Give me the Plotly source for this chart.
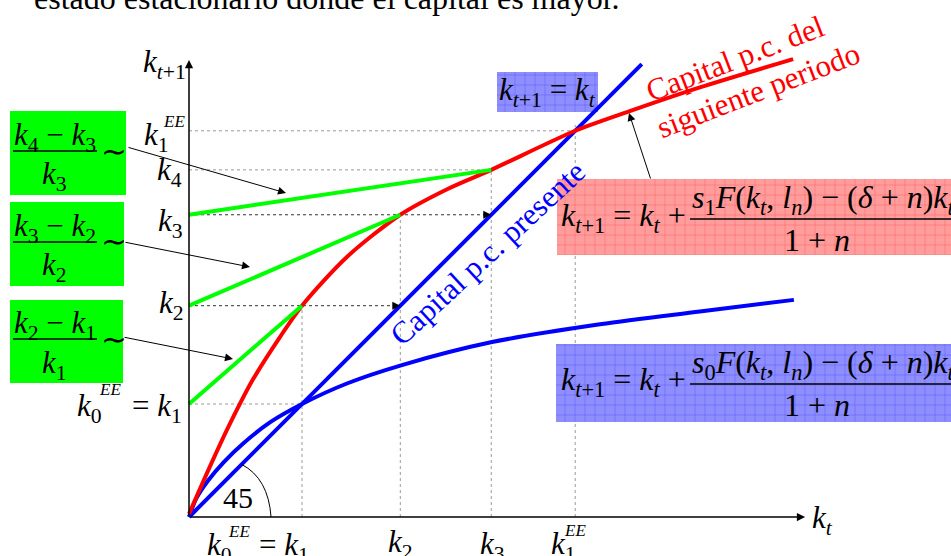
import plotly.graph_objects as go

W, H = 951, 556
# axis origin in pixels and pixels per unit of capital
OX, OY, S = 189, 517, 38.7
SERIF = "Liberation Serif"

# transition path of capital per capita: k1, k2, k3, k4
k_path = [2.92, 5.46, 7.81, 8.97]
# new steady state k1^EE
k_ee1 = 9.98

# k_{t+1} against k_t with the higher savings rate s1
red_x = [0.0, 0.54, 0.98, 1.65, 2.35, 2.92, 4.08, 5.46, 6.67, 7.81, 9.98, 11.37, 13.20, 15.61]
red_y = [0.08, 1.30, 2.25, 3.55, 4.65, 5.46, 6.72, 7.81, 8.47, 8.97, 9.98, 10.48, 11.10, 11.83]

# k_{t+1} against k_t with the original savings rate s0
blue_x = [0.0, 0.20, 0.50, 0.90, 1.40, 2.10, 2.92, 4.08, 5.48, 7.83, 10.62, 13.20, 15.63]
blue_y = [0.0, 0.50, 0.95, 1.42, 1.90, 2.45, 2.92, 3.45, 3.92, 4.52, 4.98, 5.31, 5.61]

# 45 degree line k_{t+1} = k_t
diag_end = 11.7
# axis extents
x_axis_end, y_axis_end = 15.92, 11.81

x_range = [-OX / S, (W - OX) / S]
y_range = [-(H - OY) / S, OY / S]


def pp(px, py):
    """pixel position on the page -> paper coordinates"""
    return px / W, 1 - py / H


def to_data(px, py):
    return (px - OX) / S, (OY - py) / S


def k(sub):
    return f"<i>k</i><sub>{sub}</sub>"


fig = go.Figure()
shapes, annotations = [], []


def text(txt, px, py, size=30, color="black", xanchor="center", yanchor="middle", angle=0):
    x, y = pp(px, py)
    annotations.append(dict(text=txt, x=x, y=y, xref="paper", yref="paper", showarrow=False,
                            font=dict(family=SERIF, size=size, color=color),
                            xanchor=xanchor, yanchor=yanchor, textangle=angle))


def arrow(head, tail, width=1.0, size=1.6):
    x, y = pp(*head)
    annotations.append(dict(text="", x=x, y=y, xref="paper", yref="paper", showarrow=True,
                            ax=tail[0] - head[0], ay=tail[1] - head[1],
                            arrowhead=2, arrowsize=size, arrowwidth=width, arrowcolor="black",
                            standoff=0))


def hbar(x0, x1, py, width=1.5):
    a, y = pp(x0, py)
    b, _ = pp(x1, py)
    shapes.append(dict(type="line", xref="paper", yref="paper", x0=a, x1=b, y0=y, y1=y,
                       line=dict(color="black", width=width)))


def pattern_box(x0, y0, x1, y1, bg, fg):
    ax0, ay0 = to_data(x0, y0)
    ax1, ay1 = to_data(x1, y1)
    fig.add_trace(go.Scatter(x=[ax0, ax1, ax1, ax0, ax0], y=[ay0, ay0, ay1, ay1, ay0],
                             mode="none", fill="toself", hoverinfo="skip",
                             fillpattern=dict(shape="+", size=10, solidity=0.1,
                                              bgcolor=bg, fgcolor=fg)))


# ---- guide lines (dotted) ----
k1, k2, k3, k4 = k_path
gray = dict(color="#9a9a9a", width=1, dash="dot")
dark = dict(color="#333333", width=1, dash="dot")
for xv, top in [(k1, k2), (k2, k3), (k3, k4), (k_ee1, k_ee1 + 0.15)]:
    shapes.append(dict(type="line", xref="x", yref="y", x0=xv, x1=xv, y0=0, y1=top,
                       line=gray, layer="below"))
shapes.append(dict(type="line", xref="x", yref="y", x0=0, x1=k1, y0=k1, y1=k1, line=gray, layer="below"))
shapes.append(dict(type="line", xref="x", yref="y", x0=0, x1=k2, y0=k2, y1=k2, line=dark, layer="below"))
shapes.append(dict(type="line", xref="x", yref="y", x0=0, x1=k3, y0=k3, y1=k3, line=dark, layer="below"))
shapes.append(dict(type="line", xref="x", yref="y", x0=0, x1=k3, y0=k4, y1=k4, line=gray, layer="below"))
shapes.append(dict(type="line", xref="x", yref="y", x0=0, x1=k_ee1, y0=k_ee1, y1=k_ee1, line=gray, layer="below"))

# arrowheads where the next capital level meets the 45 degree line
for kv in (k2, k3):
    annotations.append(dict(text="", x=kv, y=kv, xref="x", yref="y", showarrow=True,
                            ax=-9, ay=0, arrowhead=2, arrowsize=1.6, arrowwidth=1,
                            arrowcolor="black", standoff=0))

# 45 degree arc
shapes.append(dict(type="path", xref="x", yref="y",
                   path="M 1.36,1.36 Q 2.05,1.0 2.12,0", line=dict(color="black", width=1)))

# ---- formula boxes ----
pattern_box(497, 72, 598, 112, "#8e8eff", "#2a2aff")
pattern_box(557, 179, 951, 255, "#ff9c9c", "#ff2a2a")
pattern_box(556, 344, 951, 422, "#8e8eff", "#2a2aff")

# ---- curves ----
fig.add_trace(go.Scatter(x=[0, diag_end], y=[0, diag_end], mode="lines",
                         line=dict(color="#0000ff", width=4), hoverinfo="skip"))
fig.add_trace(go.Scatter(x=blue_x, y=blue_y, mode="lines",
                         line=dict(color="#0000ff", width=4, shape="spline", smoothing=0.9),
                         hoverinfo="skip"))
fig.add_trace(go.Scatter(x=red_x, y=red_y, mode="lines",
                         line=dict(color="#ff0000", width=4, shape="spline", smoothing=0.8),
                         hoverinfo="skip"))

# growth-rate chords from the vertical axis to the next point on the red curve
for a, b in [(k1, k2), (k2, k3), (k3, k4)]:
    fig.add_trace(go.Scatter(x=[0, a], y=[a, b], mode="lines",
                             line=dict(color="#00ff00", width=4), hoverinfo="skip"))

# ---- axes with arrowheads ----
for hx, hy in [(0, y_axis_end), (x_axis_end, 0)]:
    annotations.append(dict(text="", x=hx, y=hy, xref="x", yref="y", showarrow=True,
                            ax=0, ay=0, axref="x", ayref="y", arrowhead=2, arrowsize=1.1,
                            arrowwidth=1.5, arrowcolor="black", standoff=0))

# ---- green ratio boxes ----
for (x0, y0, x1, y1) in [(10, 111, 126, 195), (10, 202, 124, 286), (10, 300, 123, 383)]:
    a, b = pp(x0, y0)
    c, d = pp(x1, y1)
    shapes.append(dict(type="rect", xref="paper", yref="paper", x0=a, x1=c, y0=d, y1=b,
                       fillcolor="#00ff00", line=dict(width=0), layer="below"))

ratio_boxes = [("4", "3", 137, 151, 176), ("3", "2", 228, 242, 267), ("2", "1", 325, 339, 365)]
for hi, lo, ny, by, dy in ratio_boxes:
    text(f"{k(hi)} − {k(lo)}", 55, ny, size=31)
    hbar(13, 97, by)
    text(k(lo), 54, dy, size=31)
    text("∼", 114, by, size=31)

arrow((286, 193), (127, 147))
arrow((250, 267), (124, 242))
arrow((233, 359), (123, 337))
arrow((629, 113), (651, 180))

# ---- axis labels ----
text(k("<i>t</i>+1"), 188, 64, size=31, xanchor="right")
text(k("1"), 171, 137, size=31, xanchor="right")
text("<i>EE</i>", 174, 122, size=17)
text(k("4"), 184, 172, size=31, xanchor="right")
text(k("3"), 185, 223, size=31, xanchor="right")
text(k("2"), 186, 305, size=31, xanchor="right")
text(k("0"), 104, 408, size=31, xanchor="right")
text("<i>EE</i>", 110, 389, size=17)
text("= " + k("1"), 130, 408, size=31, xanchor="left")

text(k("0"), 234, 547, size=31, xanchor="right")
text("<i>EE</i>", 239, 531, size=17)
text("= " + k("1"), 257, 547, size=31, xanchor="left")
text(k("2"), 400, 544, size=31)
text(k("3"), 492, 546, size=31)
text(k("1"), 563, 546, size=31)
text("<i>EE</i>", 575, 530, size=17)
text(k("<i>t</i>"), 810, 520, size=31, xanchor="left")

text("45", 238, 497, size=30)

# ---- formulas ----
text(k("<i>t</i>+1") + " = " + k("<i>t</i>"), 547, 92, size=31)

num1 = ("<i>s</i><sub>1</sub><i>F</i>(" + k("<i>t</i>") + ", <i>l</i><sub><i>n</i></sub>) − (<i>δ</i> + <i>n</i>)"
        + k("<i>t</i>"))
num0 = num1.replace("<sub>1</sub>", "<sub>0</sub>", 1)
for num, top in [(num1, 179), (num0, 344)]:
    text(k("<i>t</i>+1") + " = " + k("<i>t</i>") + " +", 559, top + 38, size=32, xanchor="left")
    text(num, 690, top + 20, size=32, xanchor="left")
    hbar(690, 951, top + 40)
    text("1 + <i>n</i>", 817, top + 61, size=32)

# ---- descriptive labels ----
text("Capital p.c. del", 735, 58, size=31, color="#ff0000", angle=-21)
text("siguiente periodo", 758, 90, size=31, color="#ff0000", angle=-21)
text("Capital p.c. presente", 487, 253, size=31, color="#0000ff", angle=-43)

text("estado estacionario donde el capital es mayor.", 32, 18, size=32, xanchor="left", yanchor="bottom")

fig.update_layout(
    width=W, height=H, margin=dict(l=0, r=0, t=0, b=0),
    paper_bgcolor="white", plot_bgcolor="white", showlegend=False,
    xaxis=dict(range=x_range, visible=False, fixedrange=True),
    yaxis=dict(range=y_range, visible=False, fixedrange=True),
    shapes=shapes, annotations=annotations,
)
fig.write_html("out.html")
